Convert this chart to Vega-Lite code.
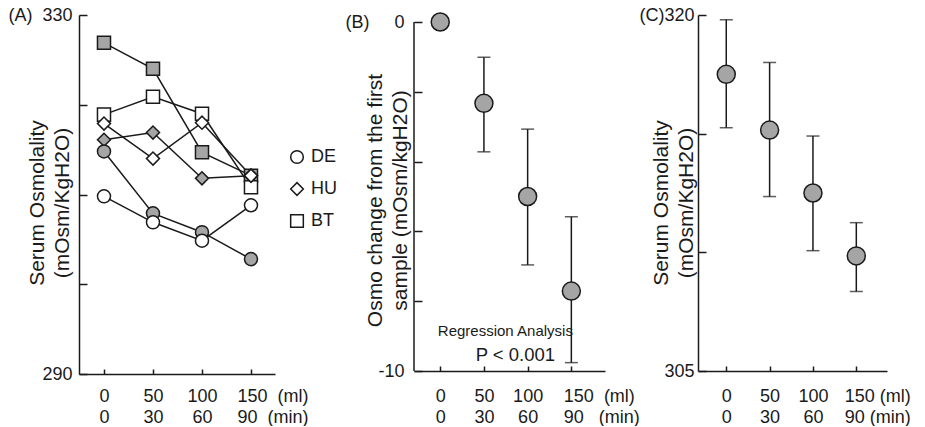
{
  "$schema": "https://vega.github.io/schema/vega-lite/v6.json",
  "background": "white",
  "padding": {"left": 7, "top": 6, "right": 0, "bottom": 0},
  "bounds": "flush",
  "spacing": 139,
  "datasets": {
    "indiv": [
      {"subject": "BT", "type": "filled", "ml": 0, "osm": 326.9},
      {"subject": "BT", "type": "filled", "ml": 50, "osm": 324.0},
      {"subject": "BT", "type": "filled", "ml": 100, "osm": 314.7},
      {"subject": "BT", "type": "filled", "ml": 150, "osm": 312.1},
      {"subject": "BT", "type": "open", "ml": 0, "osm": 318.9},
      {"subject": "BT", "type": "open", "ml": 50, "osm": 320.9},
      {"subject": "BT", "type": "open", "ml": 100, "osm": 319.0},
      {"subject": "BT", "type": "open", "ml": 150, "osm": 310.8},
      {"subject": "HU", "type": "filled", "ml": 0, "osm": 316.1},
      {"subject": "HU", "type": "filled", "ml": 50, "osm": 316.9},
      {"subject": "HU", "type": "filled", "ml": 100, "osm": 311.8},
      {"subject": "HU", "type": "filled", "ml": 150, "osm": 312.1},
      {"subject": "HU", "type": "open", "ml": 0, "osm": 317.9},
      {"subject": "HU", "type": "open", "ml": 50, "osm": 314.0},
      {"subject": "HU", "type": "open", "ml": 100, "osm": 318.0},
      {"subject": "HU", "type": "open", "ml": 150, "osm": 312.1},
      {"subject": "DE", "type": "filled", "ml": 0, "osm": 314.8},
      {"subject": "DE", "type": "filled", "ml": 50, "osm": 307.9},
      {"subject": "DE", "type": "filled", "ml": 100, "osm": 305.8},
      {"subject": "DE", "type": "filled", "ml": 150, "osm": 302.8},
      {"subject": "DE", "type": "open", "ml": 0, "osm": 309.8},
      {"subject": "DE", "type": "open", "ml": 50, "osm": 306.9},
      {"subject": "DE", "type": "open", "ml": 100, "osm": 304.85},
      {"subject": "DE", "type": "open", "ml": 150, "osm": 308.8}
    ],
    "change": [
      {"ml": 0, "mean": 0, "lo": null, "hi": null},
      {"ml": 50, "mean": -2.33, "lo": -3.72, "hi": -1.01},
      {"ml": 100, "mean": -5.0, "lo": -6.96, "hi": -3.07},
      {"ml": 150, "mean": -7.71, "lo": -9.76, "hi": -5.58}
    ],
    "avg": [
      {"ml": 0, "mean": 317.5, "lo": 315.25, "hi": 319.8},
      {"ml": 50, "mean": 315.15, "lo": 312.35, "hi": 318.0},
      {"ml": 100, "mean": 312.5, "lo": 310.07, "hi": 314.9},
      {"ml": 150, "mean": 309.85, "lo": 308.35, "hi": 311.25}
    ],
    "note1": [
      {"text": "Regression Analysis", "ml": 74.5, "y": -8.85}
    ],
    "note2": [
      {"text": "P < 0.001", "ml": 86, "y": -9.55}
    ],
    "axisline": [
      {"ml": -30, "from": -10, "to": 0}
    ]
  },
  "config": {
    "view": {"stroke": null},
    "font": "Liberation Sans",
    "axis": {
      "grid": false,
      "domainColor": "#1a1a1a",
      "domainWidth": 1.5,
      "tickColor": "#1a1a1a",
      "tickWidth": 1.5,
      "labelColor": "#1a1a1a",
      "labelFont": "Liberation Sans",
      "labelFontSize": 18,
      "titleFont": "Liberation Sans",
      "titleFontSize": 21,
      "titleFontWeight": "normal",
      "titleColor": "#1a1a1a",
      "titleLineHeight": 25,
      "titleBaseline": "middle",
      "labelOverlap": false,
      "labelFlush": false,
      "labelBound": false
    },
    "axisY": {"tickSize": -8, "labelPadding": 15},
    "axisX": {"tickSize": -5, "labelLineHeight": 21},
    "legend": {
      "labelFont": "Liberation Sans",
      "labelFontSize": 18,
      "labelColor": "#1a1a1a"
    }
  },
  "hconcat": [
    {
      "width": 196,
      "height": 359,
      "data": {"name": "indiv"},
      "layer": [
        {
          "mark": {"type": "line", "color": "#1a1a1a", "strokeWidth": 1.5},
          "encoding": {
            "x": {"field": "ml", "type": "quantitative", "scale": {"domain": [-25.5, 174.5], "nice": false, "zero": false},
              "axis": {"title": null, "values": [0, 50, 100, 150], "labelPadding": 18,
                "labelAlign": {"condition": {"test": "datum.value == 150", "value": "left"}, "value": "center"},
                "labelOffset": {"condition": {"test": "datum.value == 150", "value": -14}, "value": 0},
                "labelExpr": "datum.value == 0 ? ['0','0'] : datum.value == 50 ? ['50','30'] : datum.value == 100 ? ['100','60'] : ['150\u00a0\u00a0(ml)','\u00a0\u00a090\u00a0\u00a0(min)']"}},
            "y": {"field": "osm", "type": "quantitative", "scale": {"domain": [290, 330], "nice": false, "zero": false},
              "axis": {"values": [290, 300, 310, 320, 330], "title": ["Serum Osmolality", "(mOsm/KgH2O)"], "titleX": -42, "titleY": 187.5, "labelPadding": 15,
                "labelExpr": "datum.value == 330 ? '(A)\u00a0\u00a0330' : datum.value == 290 ? '290' : ''"}},
            "detail": [{"field": "subject"}, {"field": "type"}]
          }
        },
        {
          "mark": {"type": "point", "filled": true, "size": 170, "stroke": "#1a1a1a", "strokeWidth": 1.5, "opacity": 1},
          "encoding": {
            "x": {"field": "ml", "type": "quantitative"},
            "y": {"field": "osm", "type": "quantitative"},
            "shape": {"field": "subject", "type": "nominal", "scale": {"domain": ["DE", "HU", "BT"], "range": ["circle", "diamond", "square"]},
              "legend": {"title": null, "orient": "none", "legendX": 209, "legendY": 133, "symbolFillColor": "white", "symbolStrokeColor": "#1a1a1a", "symbolStrokeWidth": 1.5, "symbolSize": 160, "rowPadding": 12, "labelOffset": 5, "padding": 0}},
            "fill": {"field": "type", "type": "nominal", "scale": {"domain": ["open", "filled"], "range": ["white", "#a5a5a5"]}, "legend": null}
          }
        }
      ]
    },
    {
      "hconcat": [
        {
          "width": 191,
          "height": 356,
          "layer": [
            {
              "data": {"name": "change"},
              "transform": [{"filter": "datum.lo != null"}],
              "mark": {"type": "errorbar", "color": "#1a1a1a", "ticks": {"size": 13, "thickness": 1.5}, "rule": {"strokeWidth": 1.5}},
              "encoding": {
                "x": {"field": "ml", "type": "quantitative", "scale": {"domain": [-30, 188.5], "nice": false, "zero": false},
                  "axis": {"title": null, "values": [0, 50, 100, 150], "labelPadding": 21,
                    "labelAlign": {"condition": {"test": "datum.value == 150", "value": "left"}, "value": "center"},
                    "labelOffset": {"condition": {"test": "datum.value == 150", "value": -8}, "value": 0},
                    "labelExpr": "datum.value == 0 ? ['0','0'] : datum.value == 50 ? ['50','30'] : datum.value == 100 ? ['100','60'] : ['150\u00a0\u00a0(ml)','\u00a090\u00a0\u00a0\u00a0(min)']"}},
                "y": {"field": "lo", "type": "quantitative", "scale": {"domain": [-10, 0.2006], "nice": false, "zero": false},
                  "axis": {"values": [-10, -8, -6, -4, -2, 0], "domain": false, "title": ["Osmo change from the first", "sample  (mOsm/kgH2O)"], "titleX": -38.5, "titleY": 185, "labelPadding": 18,
                    "labelExpr": "datum.value == 0 ? '(B)\u00a0\u00a0\u00a0\u00a0\u00a00' : datum.value == -10 ? '-10' : ''"}},
                "y2": {"field": "hi"}
              }
            },
            {
              "data": {"name": "axisline"},
              "mark": {"type": "rule", "color": "#1a1a1a", "strokeWidth": 1.5},
              "encoding": {
                "x": {"field": "ml", "type": "quantitative"},
                "y": {"field": "from", "type": "quantitative"},
                "y2": {"field": "to"}
              }
            },
            {
              "data": {"name": "change"},
              "mark": {"type": "circle", "size": 324, "fill": "#a5a5a5", "stroke": "#1a1a1a", "strokeWidth": 1.5, "opacity": 1},
              "encoding": {
                "x": {"field": "ml", "type": "quantitative"},
                "y": {"field": "mean", "type": "quantitative"}
              }
            },
            {
              "data": {"name": "note1"},
              "mark": {"type": "text", "font": "Liberation Sans", "fontSize": 15, "color": "#1a1a1a"},
              "encoding": {
                "x": {"field": "ml", "type": "quantitative"},
                "y": {"field": "y", "type": "quantitative"},
                "text": {"field": "text"}
              }
            },
            {
              "data": {"name": "note2"},
              "mark": {"type": "text", "font": "Liberation Sans", "fontSize": 18.5, "color": "#1a1a1a"},
              "encoding": {
                "x": {"field": "ml", "type": "quantitative"},
                "y": {"field": "y", "type": "quantitative"},
                "text": {"field": "text"}
              }
            }
          ]
        },
        {
          "width": 189,
          "height": 356,
          "data": {"name": "avg"},
          "layer": [
            {
              "mark": {"type": "errorbar", "color": "#1a1a1a", "ticks": {"size": 13, "thickness": 1.5}, "rule": {"strokeWidth": 1.5}},
              "encoding": {
                "x": {"field": "ml", "type": "quantitative", "scale": {"domain": [-32.6, 185.4], "nice": false, "zero": false},
                  "axis": {"title": null, "values": [0, 50, 100, 150], "labelPadding": 21,
                    "labelAlign": {"condition": {"test": "datum.value == 150", "value": "left"}, "value": "center"},
                    "labelOffset": {"condition": {"test": "datum.value == 150", "value": -12}, "value": 0},
                    "labelExpr": "datum.value == 0 ? ['0','0'] : datum.value == 50 ? ['50','30'] : datum.value == 100 ? ['100','60'] : ['150\u00a0(ml)','\u00a0\u00a090\u00a0(min)']"}},
                "y": {"field": "lo", "type": "quantitative", "scale": {"domain": [305, 320], "nice": false, "zero": false},
                  "axis": {"values": [305, 310, 315, 320], "title": ["Serum Osmolality", "(mOsm/KgH2O)"], "titleX": -36.5, "titleY": 187.5, "labelPadding": 12,
                    "labelExpr": "datum.value == 320 ? '(C)320' : datum.value == 305 ? '305' : ''"}},
                "y2": {"field": "hi"}
              }
            },
            {
              "mark": {"type": "circle", "size": 324, "fill": "#a5a5a5", "stroke": "#1a1a1a", "strokeWidth": 1.5, "opacity": 1},
              "encoding": {
                "x": {"field": "ml", "type": "quantitative"},
                "y": {"field": "mean", "type": "quantitative"}
              }
            }
          ]
        }
      ],
      "spacing": 93,
      "bounds": "flush"
    }
  ]
}
